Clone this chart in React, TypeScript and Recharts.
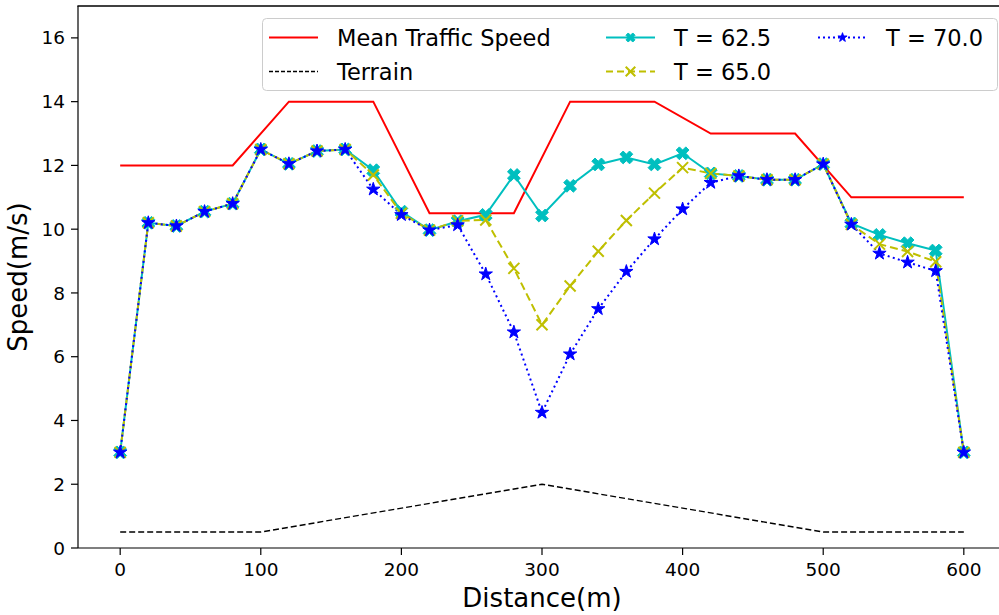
import React from 'react';
import { LineChart, Line, XAxis, YAxis, Legend, Customized } from 'recharts';

const distance = [0, 20, 40, 60, 80, 100, 120, 140, 160, 180, 200, 220, 240, 260, 280, 300, 320, 340, 360, 380, 400, 420, 440, 460, 480, 500, 520, 540, 560, 580, 600];

const speedT625 = [3.0, 10.2, 10.1, 10.55, 10.8, 12.5, 12.05, 12.45, 12.5, 11.85, 10.55, 9.97, 10.25, 10.45, 11.7, 10.43, 11.36, 12.03, 12.25, 12.03, 12.38, 11.75, 11.67, 11.55, 11.55, 12.04, 10.18, 9.82, 9.56, 9.33, 3.0];
const speedT650 = [3.0, 10.2, 10.1, 10.55, 10.8, 12.5, 12.05, 12.45, 12.5, 11.7, 10.5, 9.97, 10.26, 10.29, 8.77, 7.0, 8.22, 9.31, 10.27, 11.13, 11.93, 11.75, 11.67, 11.55, 11.55, 12.04, 10.15, 9.53, 9.3, 8.98, 3.0];
const speedT700 = [3.0, 10.2, 10.1, 10.55, 10.8, 12.5, 12.05, 12.45, 12.5, 11.25, 10.45, 9.97, 10.13, 8.59, 6.77, 4.25, 6.08, 7.5, 8.67, 9.69, 10.63, 11.46, 11.67, 11.55, 11.55, 12.04, 10.15, 9.24, 8.96, 8.69, 3.0];

const meanDist = [0, 80, 120, 180, 220, 280, 320, 380, 420, 480, 520, 600];
const meanSpeed = [12, 12, 14, 14, 10.5, 10.5, 14, 14, 13, 13, 11, 11];

const terrainDist = [0, 100, 300, 500, 600];
const terrainHeight = [0.5, 0.5, 2, 0.5, 0.5];

const xTicks = [0, 100, 200, 300, 400, 500, 600];
const yTicks = [0, 2, 4, 6, 8, 10, 12, 14, 16];

const toRows = (xs: number[], ys: number[]) => xs.map((x, i) => ({ x, y: ys[i] }));

const meanData = toRows(meanDist, meanSpeed);
const terrainData = toRows(terrainDist, terrainHeight);
const t625Data = toRows(distance, speedT625);
const t650Data = toRows(distance, speedT650);
const t700Data = toRows(distance, speedT700);

const FONT = '"DejaVu Sans", Verdana, sans-serif';
const CYAN = '#00bfbf';
const OLIVE = '#bfbf00';
const BLUE = '#0000ff';

// plot box, in pixels, shared by the axes and the spine
const PLOT_LEFT = 78;
const PLOT_TOP = 6;
const CHART_W = 1010;

function crossPoints(cx: number, cy: number, L: number) {
  const a = L / 3;
  const pts = [
    [a, L], [a, a], [L, a], [L, -a], [a, -a], [a, -L],
    [-a, -L], [-a, -a], [-L, -a], [-L, a], [-a, a], [-a, L],
  ];
  const c = Math.SQRT1_2;
  return pts
    .map(([px, py]) => `${cx + (px - py) * c},${cy + (px + py) * c}`)
    .join(' ');
}

function starPoints(cx: number, cy: number, r: number) {
  const out: string[] = [];
  for (let i = 0; i < 10; i++) {
    const rad = i % 2 === 0 ? r : r * 0.381966;
    const ang = -Math.PI / 2 + (i * Math.PI) / 5;
    out.push(`${cx + rad * Math.cos(ang)},${cy + rad * Math.sin(ang)}`);
  }
  return out.join(' ');
}

const FilledX = ({ cx, cy, size = 6.8 }: any) => (
  <polygon points={crossPoints(cx, cy, size)} fill={CYAN} stroke={CYAN} strokeWidth={1} />
);

const ThinX = ({ cx, cy, size = 5.5 }: any) => (
  <g stroke={OLIVE} strokeWidth={2}>
    <line x1={cx - size} y1={cy - size} x2={cx + size} y2={cy + size} />
    <line x1={cx - size} y1={cy + size} x2={cx + size} y2={cy - size} />
  </g>
);

const Star = ({ cx, cy, size = 7 }: any) => (
  <polygon points={starPoints(cx, cy, size)} fill={BLUE} stroke={BLUE} strokeWidth={1} />
);

const dotOf = (Marker: any) => (props: any) => {
  const { cx, cy, index } = props;
  if (cx == null || cy == null) return <g key={`d-${index}`} />;
  return <Marker key={`d-${index}`} cx={cx} cy={cy} />;
};

// legend laid out like the matplotlib one: 3 columns, 2 rows
const legendItems = [
  { label: 'Mean Traffic Speed', col: 0, row: 0, color: 'red', dash: undefined, width: 2, marker: null },
  { label: 'Terrain', col: 0, row: 1, color: 'black', dash: '4 2', width: 1.4, marker: null },
  { label: 'T = 62.5', col: 1, row: 0, color: CYAN, dash: undefined, width: 2, marker: FilledX },
  { label: 'T = 65.0', col: 1, row: 1, color: OLIVE, dash: '7 4', width: 2, marker: ThinX },
  { label: 'T = 70.0', col: 2, row: 0, color: BLUE, dash: '2 3', width: 2, marker: Star },
];
const colX = [7, 344, 556];
const rowY = [19.5, 53.5];

const renderLegend = () => (
  <svg width={736} height={73} style={{ display: 'block' }}>
    <rect x={0.5} y={0.5} width={735} height={72} rx={4} fill="rgba(255,255,255,0.8)" stroke="#cccccc" strokeWidth={1} />
    {legendItems.map((it) => {
      const x0 = colX[it.col];
      const y = rowY[it.row];
      const M = it.marker as any;
      return (
        <g key={it.label}>
          <line x1={x0} y1={y} x2={x0 + 49} y2={y} stroke={it.color} strokeWidth={it.width} strokeDasharray={it.dash} />
          {M && <M cx={x0 + 24.5} cy={y} size={4.8} />}
          <text x={x0 + 68} y={y} dy="0.36em" fontSize={22.5} fontFamily={FONT} fill="black">
            {it.label}
          </text>
        </g>
      );
    })}
  </svg>
);

const renderYLabel = () => (
  <text x={27} y={277} transform="rotate(-90, 27, 277)" textAnchor="middle" fontSize={26} fontFamily={FONT} fill="black">
    Speed(m/s)
  </text>
);

const renderXLabel = () => (
  <text x={542} y={607} textAnchor="middle" fontSize={26} fontFamily={FONT} fill="black">
    Distance(m)
  </text>
);

const TopSpine = () => (
  <line x1={PLOT_LEFT - 0.6} y1={PLOT_TOP} x2={CHART_W} y2={PLOT_TOP} stroke="black" strokeWidth={1.3} />
);

export default function App() {
  // fixed so the wider-than-window plot never creates scrollbars
  return (
    <div style={{ position: 'fixed', left: 0, top: 0, width: 999, height: 615, overflow: 'hidden', background: '#fff' }}>
      <LineChart width={CHART_W} height={615} margin={{ top: PLOT_TOP, right: 4, bottom: 0, left: 0 }}>
        <XAxis
          type="number"
          dataKey="x"
          domain={[-30, 630]}
          ticks={xTicks}
          allowDataOverflow
          height={67}
          tickSize={7}
          tickMargin={8}
          stroke="black"
          strokeWidth={1.2}
          tick={{ fill: 'black', fontSize: 18.5, fontFamily: FONT }}
          label={{ content: renderXLabel }}
        />
        <YAxis
          type="number"
          dataKey="y"
          domain={[0, 17]}
          ticks={yTicks}
          allowDataOverflow
          width={PLOT_LEFT}
          tickSize={7}
          tickMargin={6}
          stroke="black"
          strokeWidth={1.2}
          tick={{ fill: 'black', fontSize: 18.5, fontFamily: FONT }}
          label={{ content: renderYLabel }}
        />
        <Legend
          layout="vertical"
          align="center"
          verticalAlign="middle"
          content={renderLegend}
          wrapperStyle={{ left: 262, top: 18, width: 736, height: 73 }}
        />
        <Line data={meanData} dataKey="y" stroke="red" strokeWidth={2} dot={false} activeDot={false} isAnimationActive={false} />
        <Line data={terrainData} dataKey="y" stroke="black" strokeWidth={1.4} strokeDasharray="6 3" dot={false} activeDot={false} isAnimationActive={false} />
        <Line data={t625Data} dataKey="y" stroke={CYAN} strokeWidth={2} dot={dotOf(FilledX)} activeDot={false} isAnimationActive={false} />
        <Line data={t650Data} dataKey="y" stroke={OLIVE} strokeWidth={2} strokeDasharray="8 4" dot={dotOf(ThinX)} activeDot={false} isAnimationActive={false} />
        <Line data={t700Data} dataKey="y" stroke={BLUE} strokeWidth={2} strokeDasharray="2 3.3" dot={dotOf(Star)} activeDot={false} isAnimationActive={false} />
        <Customized component={TopSpine} />
      </LineChart>
    </div>
  );
}
